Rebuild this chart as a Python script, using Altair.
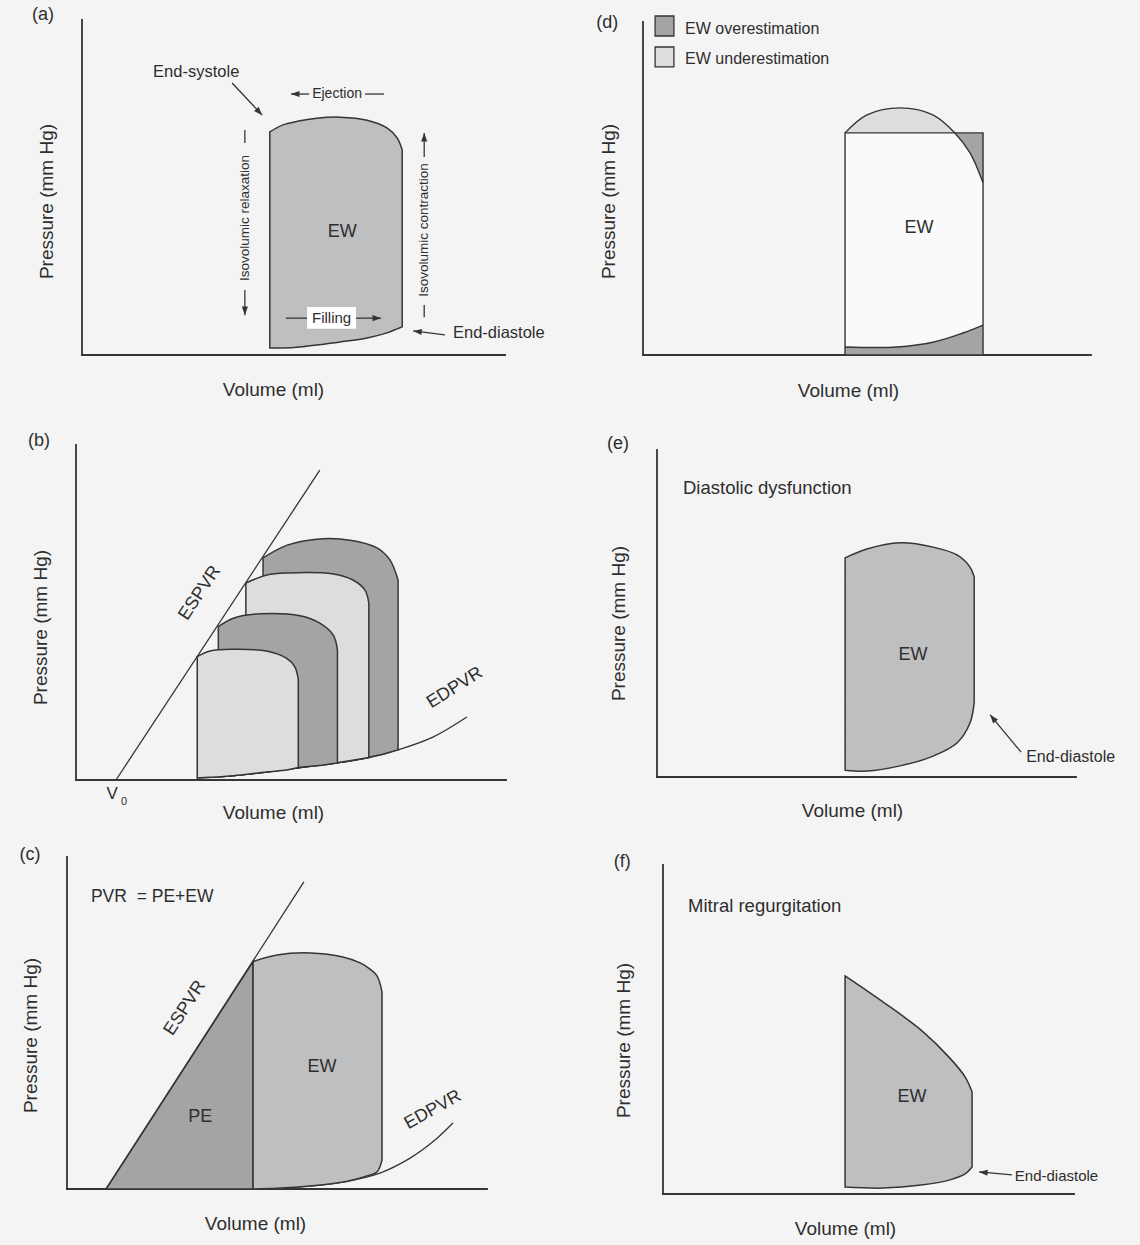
import math

import altair as alt
import pandas as pd

FONT = "Liberation Sans"
INK = "#353535"
TEXT = "#2e2e2e"
BG = "#f4f4f4"
MID = "#bebfc1"
DARK = "#a4a4a4"
LIGHT = "#dddddd"
PAPER = "#fafafa"
WHITE = "#ffffff"

CELL_W, CELL_H = 570, 415
HEAD = "M0,0L0.65,1.8L-0.65,1.8Z"
SMOOTH = "catmull-rom"

# Volume and pressure are in relative units (0-100) within each panel.

# (a) a single pressure-volume loop
A_VOL = [44.4, 47.5, 51.5, 55.5, 61.0, 67.4, 72.1, 74.5, 75.7]
A_TOP = [66.6, 68.7, 69.9, 70.7, 71.0, 70.1, 67.8, 64.8, 61.2]
A_BOT = [2.1, 2.1, 2.4, 3.0, 3.9, 5.1, 6.6, 7.8, 8.4]
A_BOX = (53.2, 64.8, 7.8, 14.3)
A_TEXT = [
    ("(a)", -9.2, 101.5, 18, 0, "center"),
    ("End-systole", 27.0, 84.5, 16.5, 0, "center"),
    ("Ejection", 60.3, 77.9, 14, 0, "center"),
    ("Isovolumic relaxation", 38.5, 40.9, 13.5, 270, "center"),
    ("Isovolumic contraction", 80.9, 37.3, 13.5, 270, "center"),
    ("Filling", 59.0, 11.0, 15, 0, "center"),
    ("EW", 61.5, 36.7, 18, 0, "center"),
    ("End-diastole", 87.7, 6.6, 16.5, 0, "left"),
]
A_ARROWS = [
    (35.5, 81.2, 42.6, 71.6),
    (53.7, 77.9, 49.4, 77.9),
    (38.5, 19.4, 38.5, 11.9),
    (80.9, 59.1, 80.9, 66.3),
    (64.8, 11.0, 70.7, 11.0),
    (85.8, 6.0, 78.3, 7.2),
]
A_DASHES = [
    (66.9, 77.9, 71.4, 77.9),
    (38.5, 67.2, 38.5, 63.3),
    (80.9, 14.9, 80.9, 11.3),
    (48.2, 11.0, 53.2, 11.0),
]

# (d) rectangle approximation of the loop
D_RECT = (45.1, 75.9, 0.0, 66.7)
D_ARC_VOL = [45.1, 50.0, 57.4, 64.7, 69.6, 73.0, 75.9]
D_ARC_PRES = [66.7, 72.1, 74.2, 72.1, 66.7, 60.7, 51.7]
D_BASE_VOL = [45.1, 56.7, 64.9, 71.4, 75.9]
D_BASE_PRES = [2.4, 2.4, 3.9, 6.6, 9.0]
D_KEY = [(DARK, 95.8, 101.8), (LIGHT, 86.5, 92.5)]
D_KEY_VOL = (2.7, 6.9)
D_TEXT = [
    ("(d)", -8.0, 99.7, 18, 0, "center"),
    ("EW overestimation", 9.4, 97.9, 16, 0, "left"),
    ("EW underestimation", 9.4, 88.9, 16, 0, "left"),
    ("EW", 61.6, 38.1, 18, 0, "center"),
]

# (b) loops at increasing preload
B_ESPVR = (9.3, 0.0, 56.7, 92.5)
B_EDPVR_VOL = [28.1, 35.8, 42.8, 51.6, 60.7, 68.1, 74.9, 83.0, 90.9]
B_EDPVR_PRES = [0.6, 1.2, 2.2, 3.7, 5.1, 6.7, 9.0, 12.8, 18.8]
B1_VOL = [28.2, 31.2, 36.6, 44.3, 49.0, 50.9, 51.7]
B1_TOP = [36.8, 38.5, 39.0, 38.5, 36.3, 33.8, 29.9]
B1_BOT = [0.6, 0.8, 1.3, 2.4, 3.0, 3.5, 3.7]
B2_VOL = [33.1, 36.6, 42.8, 52.1, 56.7, 59.8, 60.8]
B2_TOP = [45.8, 48.3, 49.6, 49.0, 46.8, 43.3, 38.8]
B2_BOT = [1.0, 1.3, 2.2, 3.8, 4.3, 4.9, 5.1]
B3_VOL = [39.5, 44.4, 49.1, 59.8, 64.4, 67.2, 68.1]
B3_TOP = [58.8, 61.2, 61.8, 61.5, 59.7, 56.7, 52.8]
B3_BOT = [1.7, 2.4, 3.2, 4.95, 5.9, 6.5, 6.7]
B4_VOL = [43.5, 49.1, 56.0, 63.7, 70.0, 73.0, 74.9]
B4_TOP = [66.3, 70.1, 71.9, 71.6, 69.3, 65.7, 59.7]
B4_BOT = [2.3, 3.2, 4.4, 5.7, 7.3, 8.3, 9.0]
B_TEXT = [
    ("(b)", -8.6, 101.2, 18, 0, "center"),
    ("ESPVR", 28.8, 55.8, 18, 303.4, "center"),
    ("EDPVR", 88.1, 27.5, 18, 328, "center"),
    ("V", 8.4, -4.2, 17, 0, "center"),
    ("0", 11.2, -6.6, 11, 0, "center"),
]

# (e) diastolic dysfunction
E_VOL = [44.9, 50.1, 58.0, 65.9, 71.6, 74.7, 75.7]
E_TOP = [67.0, 69.7, 71.6, 70.3, 67.9, 64.2, 61.2]
E_BOT = [2.1, 1.8, 3.4, 6.4, 10.4, 16.5, 22.9]
E_TEXT = [
    ("(e)", -9.3, 101.8, 18, 0, "center"),
    ("Diastolic dysfunction", 6.2, 88.4, 18.5, 0, "left"),
    ("EW", 61.1, 37.3, 18, 0, "center"),
    ("End-diastole", 88.1, 6.1, 16, 0, "left"),
]
E_ARROWS = [(86.9, 7.6, 79.5, 19.0)]

# (c) pressure-volume area = potential energy + external work
C_ESPVR = (9.3, 0.0, 56.4, 92.5)
C_PE_VOL = [9.3, 44.3]
C_PE_TOP = [0.0, 68.5]
C_PE_BOT = [0.0, 0.0]
C_VOL = [44.3, 50.0, 57.9, 65.7, 69.8, 71.4, 73.8, 75.0]
C_TOP = [68.5, 70.5, 71.1, 69.9, 68.1, 66.9, 64.2, 59.3]
C_BOT = [0.0, 0.2, 0.9, 2.1, 3.3, 3.9, 5.1, 8.7]
C_EDPVR_VOL = [44.3, 57.9, 65.7, 74.5, 81.7, 87.1, 91.9]
C_EDPVR_PRES = [0.0, 0.9, 2.1, 4.8, 9.3, 14.2, 19.9]
C_TEXT = [
    ("(c)", -8.8, 100.6, 18, 0, "center"),
    ("PVR\u00a0 = PE+EW", 5.7, 88.0, 17.5, 0, "left"),
    ("ESPVR", 28.1, 54.5, 18, 303, "center"),
    ("EDPVR", 87.1, 23.8, 18, 331, "center"),
    ("EW", 60.7, 36.7, 18, 0, "center"),
    ("PE", 31.7, 21.7, 18, 0, "center"),
]

# (f) mitral regurgitation
F_VOL = [44.3, 53.5, 62.8, 69.8, 73.5, 75.2]
F_TOP = [66.3, 58.4, 49.8, 41.3, 35.6, 31.0]
F_BOT = [2.1, 1.8, 2.7, 4.3, 6.1, 8.2]
F_TEXT = [
    ("(f)", -9.9, 100.9, 18, 0, "center"),
    ("Mitral regurgitation", 6.1, 87.5, 18.5, 0, "left"),
    ("EW", 60.6, 29.5, 18, 0, "center"),
    ("End-diastole", 85.6, 5.5, 15, 0, "left"),
]
F_ARROWS = [(84.9, 5.8, 76.9, 6.7)]


class Panel:
    """One pressure-volume panel drawn inside a CELL_W x CELL_H cell.

    L, R, T, B give where volume 0/100 and pressure 0/100 fall in the cell.
    """

    def __init__(self, L, R, T, B, ytitle_at, xtitle_at):
        kx = 100.0 / (R - L)
        ky = 100.0 / (B - T)
        self.w, self.h = R - L, B - T
        self.xs = alt.Scale(domain=[-L * kx, (CELL_W - L) * kx], nice=False, zero=False)
        self.ys = alt.Scale(domain=[(B - CELL_H) * ky, B * ky], nice=False, zero=False)
        common = dict(
            domain=False, ticks=False, labels=False, grid=False,
            titleFont=FONT, titleFontSize=19, titleFontWeight="normal",
            titleColor=TEXT, titleAlign="center", titleBaseline="middle",
        )
        self.xaxis = alt.Axis(title="Volume (ml)", titleX=xtitle_at[0],
                              titleY=xtitle_at[1], titleAngle=0, **common)
        self.yaxis = alt.Axis(title="Pressure (mm Hg)", titleX=ytitle_at[0],
                              titleY=ytitle_at[1], titleAngle=270, **common)
        self.layers = []
        # L-shaped frame along pressure = 0 and volume = 0
        self.segments([(0, 0, 100, 0), (0, 0, 0, 100)], width=1.8, cap="square")

    def X(self, f):
        return alt.X(f, type="quantitative", scale=self.xs, axis=self.xaxis)

    def Y(self, f):
        return alt.Y(f, type="quantitative", scale=self.ys, axis=self.yaxis)

    def area(self, vol, top, bot, fill, stroke=True, interpolate=SMOOTH):
        df = pd.DataFrame({"vol": vol, "top": top, "bot": bot})
        kw = dict(fill=fill, interpolate=interpolate, opacity=1)
        if stroke:
            kw.update(stroke=INK, strokeWidth=1.5)
        else:
            kw.update(strokeWidth=0)
        self.layers.append(
            alt.Chart(df).mark_area(**kw).encode(
                x=self.X("vol"), y=self.Y("top"), y2=alt.Y2("bot")))

    def line(self, vol, pres, width=1.4, interpolate=SMOOTH):
        df = pd.DataFrame({"vol": vol, "pres": pres})
        self.layers.append(
            alt.Chart(df).mark_line(color=INK, strokeWidth=width,
                                    interpolate=interpolate).encode(
                x=self.X("vol"), y=self.Y("pres")))

    def segments(self, rows, width=1.3, cap="butt"):
        df = pd.DataFrame(rows, columns=["x1", "y1", "x2", "y2"])
        self.layers.append(
            alt.Chart(df).mark_rule(color=INK, strokeWidth=width, strokeCap=cap).encode(
                x=self.X("x1"), y=self.Y("y1"), x2=alt.X2("x2"), y2=alt.Y2("y2")))

    def arrows(self, rows):
        self.segments(rows)
        heads = []
        for x1, y1, x2, y2 in rows:
            dx = (x2 - x1) * self.w / 100.0
            dy = (y2 - y1) * self.h / 100.0
            heads.append({"x": x2, "y": y2,
                          "angle": math.degrees(math.atan2(dx, dy)) % 360})
        self.layers.append(
            alt.Chart(pd.DataFrame(heads)).mark_point(
                shape=HEAD, filled=True, color=INK, size=90, opacity=1).encode(
                x=self.X("x"), y=self.Y("y"),
                angle=alt.Angle("angle:Q", scale=None)))

    def rect(self, x1, x2, y1, y2, fill, stroke=None, width=1.4):
        df = pd.DataFrame({"x1": [x1], "x2": [x2], "y1": [y1], "y2": [y2]})
        kw = dict(fill=fill)
        if stroke:
            kw.update(stroke=stroke, strokeWidth=width)
        else:
            kw.update(strokeWidth=0)
        self.layers.append(
            alt.Chart(df).mark_rect(**kw).encode(
                x=self.X("x1"), x2=alt.X2("x2"), y=self.Y("y1"), y2=alt.Y2("y2")))

    def texts(self, rows):
        df = pd.DataFrame(rows, columns=["label", "vol", "pres", "size", "angle", "align"])
        for align in ("center", "left"):
            sub = df[df["align"] == align]
            if sub.empty:
                continue
            self.layers.append(
                alt.Chart(sub).mark_text(align=align, baseline="middle", font=FONT,
                                         color=TEXT).encode(
                    x=self.X("vol"), y=self.Y("pres"),
                    text=alt.Text("label:N"),
                    size=alt.Size("size:Q", scale=None),
                    angle=alt.Angle("angle:Q", scale=None)))

    def chart(self):
        return alt.layer(*self.layers).properties(width=CELL_W, height=CELL_H)


# (a)
pa = Panel(82, 505, 20, 355, (46.5, 201), (273, -26))
pa.area(A_VOL, A_TOP, A_BOT, MID)
pa.rect(A_BOX[0], A_BOX[1], A_BOX[2], A_BOX[3], WHITE)
pa.segments(A_DASHES)
pa.arrows(A_ARROWS)
pa.texts(A_TEXT)

# (d)
pd_ = Panel(73, 521, 22, 355, (38, 201), (278, -25))
pd_.rect(D_RECT[0], D_RECT[1], D_RECT[2], D_RECT[3], PAPER)
pd_.area(D_ARC_VOL[:5], D_ARC_PRES[:5], [D_RECT[3]] * 5, LIGHT, stroke=False)
pd_.area(D_ARC_VOL[4:], [D_RECT[3]] * 3, D_ARC_PRES[4:], DARK, stroke=False)
pd_.area(D_BASE_VOL, D_BASE_PRES, [0.0] * len(D_BASE_VOL), DARK, stroke=False)
pd_.rect(D_RECT[0], D_RECT[1], D_RECT[2], D_RECT[3], "transparent", stroke=INK)
pd_.line(D_ARC_VOL, D_ARC_PRES)
pd_.line(D_BASE_VOL, D_BASE_PRES)
for fill, lo, hi in D_KEY:
    pd_.rect(D_KEY_VOL[0], D_KEY_VOL[1], lo, hi, fill, stroke=INK, width=1.3)
pd_.texts(D_TEXT)

# (b)
pb = Panel(76, 506, 30, 365, (40, 212), (273, -18))
pb.line(B_EDPVR_VOL, B_EDPVR_PRES, width=1.3)
pb.area(B4_VOL, B4_TOP, B4_BOT, DARK)
pb.area(B3_VOL, B3_TOP, B3_BOT, LIGHT)
pb.area(B2_VOL, B2_TOP, B2_BOT, DARK)
pb.area(B1_VOL, B1_TOP, B1_BOT, LIGHT)
pb.segments([B_ESPVR])
pb.texts(B_TEXT)

# (e)
pe = Panel(87, 506, 35, 362, (48, 208), (282, -20))
pe.area(E_VOL, E_TOP, E_BOT, MID)
pe.arrows(E_ARROWS)
pe.texts(E_TEXT)

# (c)
pc = Panel(67, 487, 27, 359, (30, 205), (255, -22))
pc.line(C_EDPVR_VOL, C_EDPVR_PRES, width=1.3)
pc.area(C_PE_VOL, C_PE_TOP, C_PE_BOT, DARK, interpolate="linear")
pc.area(C_VOL, C_TOP, C_BOT, MID)
pc.segments([C_ESPVR])
pc.texts(C_TEXT)

# (f)
pf = Panel(93, 504, 35, 364, (53, 210), (275, -17))
pf.area(F_VOL, F_TOP, F_BOT, MID)
pf.arrows(F_ARROWS)
pf.texts(F_TEXT)

chart = alt.concat(
    pa.chart(), pd_.chart(),
    pb.chart(), pe.chart(),
    pc.chart(), pf.chart(),
    columns=2, spacing=0, bounds="flush",
).properties(
    background=BG, padding=0,
).configure_view(stroke=None)

chart.save("out.html", embed_options={"renderer": "svg", "actions": False})
